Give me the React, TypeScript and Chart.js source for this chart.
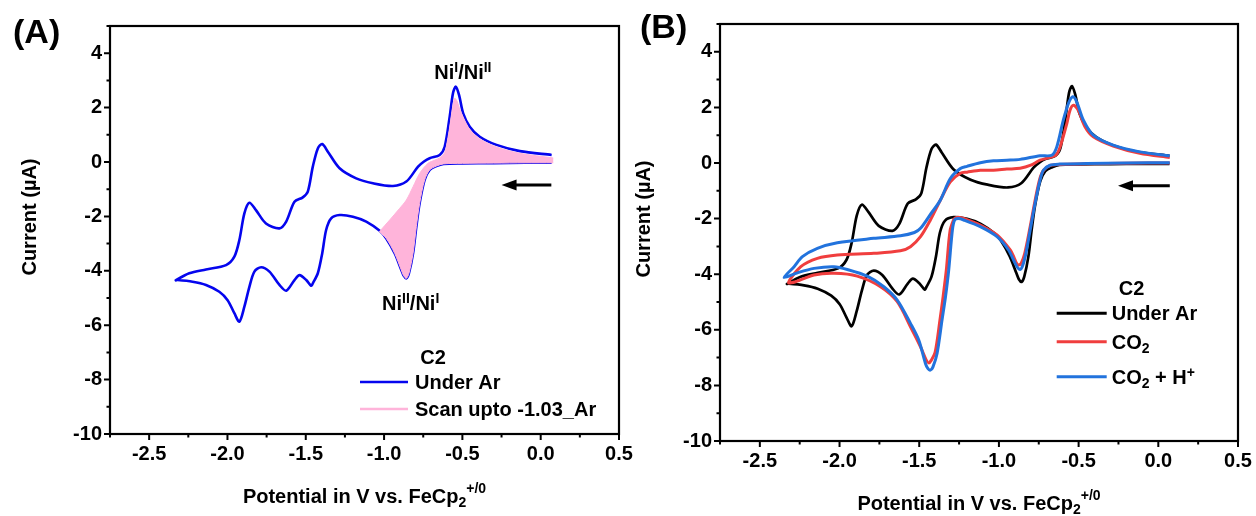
import React, { useEffect, useRef } from 'react';
import { Chart, registerables } from 'chart.js';

Chart.register(...registerables);

const FONT = '"Liberation Sans", Arial, Helvetica, sans-serif';

// Axis ranges (V and µA)
const X_MIN = -2.75;
const X_MAX = 0.5;
const Y_MIN = -10;
const Y_MAX = 5;

// ---- C2 under Ar: cathodic sweep from +0.07 V ...
const arFwdX = [0.07, -0.1, -0.3, -0.5, -0.62, -0.666, -0.709, -0.741, -0.773, -0.794, -0.815, -0.841, -0.858, -0.875, -0.89, -0.932, -0.986, -1.028, -1.114, -1.199, -1.284, -1.338, -1.37, -1.395, -1.423, -1.455, -1.466, -1.497, -1.54, -1.572, -1.625, -1.668, -1.732, -1.785, -1.828, -1.86, -1.892, -1.924, -1.956, -1.999, -2.052, -2.137, -2.223, -2.319];
const arFwdY = [-0.03, -0.03, -0.04, -0.05, -0.07, -0.15, -0.29, -0.66, -1.52, -2.38, -3.36, -4.09, -4.28, -4.18, -3.97, -3.36, -2.81, -2.53, -2.19, -2.01, -1.95, -2.07, -2.5, -3.36, -4.09, -4.46, -4.55, -4.34, -4.16, -4.34, -4.73, -4.52, -4.03, -3.87, -4.03, -4.59, -5.32, -5.87, -5.56, -5.08, -4.77, -4.52, -4.4, -4.34];
// ... and the anodic return sweep
const arRevX = [-2.33, -2.244, -2.137, -2.009, -1.956, -1.924, -1.892, -1.86, -1.818, -1.754, -1.668, -1.625, -1.572, -1.519, -1.487, -1.455, -1.423, -1.395, -1.359, -1.284, -1.178, -1.071, -0.943, -0.858, -0.783, -0.745, -0.709, -0.645, -0.613, -0.581, -0.56, -0.542, -0.521, -0.495, -0.453, -0.389, -0.282, -0.133, 0.07];
const arRevY = [-4.35, -4.09, -3.95, -3.79, -3.48, -2.87, -1.89, -1.5, -1.77, -2.26, -2.44, -2.19, -1.46, -1.3, -1.09, -0.17, 0.5, 0.66, 0.38, -0.23, -0.6, -0.78, -0.88, -0.72, -0.17, 0.02, 0.14, 0.26, 0.56, 1.67, 2.53, 2.77, 2.46, 1.79, 1.3, 0.93, 0.63, 0.4, 0.26];

// ---- C2 under Ar, sweep reversed at -1.03 V
const partFwdX = [0.08, -0.1, -0.3, -0.5, -0.62, -0.666, -0.709, -0.741, -0.773, -0.794, -0.815, -0.841, -0.858, -0.875, -0.89, -0.932, -0.986, -1.03];
const partFwdY = [-0.03, -0.03, -0.04, -0.05, -0.07, -0.15, -0.29, -0.66, -1.52, -2.38, -3.36, -4.09, -4.28, -4.18, -3.97, -3.36, -2.81, -2.56];
const partRevX = [-1.03, -0.964, -0.9, -0.858, -0.815, -0.773, -0.72, -0.676, -0.645, -0.613, -0.592, -0.578, -0.563, -0.549, -0.535, -0.52, -0.495, -0.453, -0.389, -0.282, -0.133, 0.08];
const partRevY = [-2.56, -2.13, -1.7, -1.4, -0.91, -0.42, -0.05, 0.07, 0.15, 0.35, 0.9, 1.4, 2.0, 2.34, 2.25, 2.0, 1.65, 1.2, 0.85, 0.55, 0.32, 0.15];

// ---- C2 under CO2
const co2FwdX = [0.072, -0.2, -0.45, -0.62, -0.679, -0.721, -0.745, -0.775, -0.806, -0.838, -0.86, -0.877, -0.89, -0.905, -0.929, -1.012, -1.117, -1.221, -1.255, -1.272, -1.285, -1.307, -1.33, -1.35, -1.37, -1.4, -1.425, -1.44, -1.455, -1.492, -1.555, -1.638, -1.743, -1.889, -2.035, -2.16, -2.275];
const co2FwdY = [0.0, -0.01, -0.03, -0.05, -0.09, -0.27, -0.6, -1.4, -2.35, -3.25, -3.6, -3.67, -3.6, -3.4, -3.13, -2.59, -2.23, -1.99, -1.95, -1.97, -2.05, -2.45, -3.85, -4.8, -5.65, -6.8, -7.1, -7.19, -7.1, -6.61, -5.89, -4.99, -4.45, -4.07, -3.97, -4.03, -4.27];
const co2RevX = [-2.32, -2.243, -2.139, -2.014, -1.785, -1.618, -1.555, -1.492, -1.43, -1.367, -1.305, -1.242, -1.2, -1.117, -1.034, -0.95, -0.867, -0.8, -0.742, -0.68, -0.64, -0.616, -0.574, -0.554, -0.533, -0.502, -0.46, -0.408, -0.283, -0.116, 0.072];
const co2RevY = [-4.3, -3.73, -3.43, -3.31, -3.25, -3.16, -3.01, -2.65, -2.05, -1.33, -0.68, -0.37, -0.33, -0.26, -0.26, -0.22, -0.19, -0.08, 0.1, 0.2, 0.3, 0.58, 1.42, 1.9, 2.08, 1.9, 1.3, 0.94, 0.61, 0.35, 0.2];

// ---- C2 under CO2 with added proton source
const co2hFwdX = [0.072, -0.2, -0.45, -0.62, -0.679, -0.721, -0.742, -0.773, -0.804, -0.835, -0.855, -0.867, -0.88, -0.898, -0.94, -1.012, -1.117, -1.221, -1.255, -1.278, -1.292, -1.315, -1.335, -1.357, -1.388, -1.415, -1.43, -1.445, -1.461, -1.503, -1.555, -1.638, -1.722, -1.826, -1.951, -2.035, -2.16, -2.264];
const co2hFwdY = [0.01, 0.0, -0.02, -0.04, -0.08, -0.26, -0.62, -1.45, -2.41, -3.37, -3.75, -3.83, -3.78, -3.61, -3.13, -2.65, -2.29, -2.05, -2.0, -2.05, -2.41, -3.85, -4.8, -5.65, -6.85, -7.35, -7.45, -7.4, -7.21, -6.37, -5.77, -4.93, -4.45, -4.07, -3.83, -3.73, -3.79, -3.95];
const co2hRevX = [-2.348, -2.285, -2.233, -2.139, -2.014, -1.785, -1.618, -1.53, -1.492, -1.43, -1.367, -1.305, -1.242, -1.2, -1.117, -1.034, -0.95, -0.867, -0.742, -0.668, -0.637, -0.596, -0.564, -0.537, -0.512, -0.47, -0.408, -0.283, -0.116, 0.072];
const co2hRevY = [-4.12, -3.73, -3.37, -3.07, -2.87, -2.71, -2.62, -2.5, -2.35, -1.85, -1.33, -0.56, -0.2, -0.12, 0.01, 0.08, 0.1, 0.13, 0.26, 0.28, 0.58, 1.54, 2.14, 2.38, 2.2, 1.54, 1.0, 0.64, 0.4, 0.26];

const COLORS = {
  arA: '#0505ee',
  pink: '#ffb4da',
  black: '#000000',
  red: '#f03e3e',
  blue: '#2273dd',
};

type Pt = { x: number; y: number };
const pts = (xs: number[], ys: number[]): Pt[] => xs.map((x, i) => ({ x, y: ys[i] }));
const loop = (fx: number[], fy: number[], rx: number[], ry: number[]): Pt[] => [...pts(fx, fy), ...pts(rx, ry)];

// ---- rich text (super/subscripts) on the canvas
type Run = { t: string; s?: 'sup' | 'sub'; rise?: number };

function runFont(size: number, r: Run) {
  const sz = r.s ? Math.round(size * 0.68) : size;
  return `bold ${sz}px ${FONT}`;
}

function drawRich(ctx: CanvasRenderingContext2D, runs: Run[], x: number, y: number, size: number, align: 'left' | 'center') {
  ctx.textBaseline = 'alphabetic';
  ctx.textAlign = 'left';
  let w = 0;
  for (const r of runs) {
    ctx.font = runFont(size, r);
    w += ctx.measureText(r.t).width;
  }
  let cx = align === 'center' ? x - w / 2 : x;
  for (const r of runs) {
    ctx.font = runFont(size, r);
    const dy = r.s === 'sup' ? -(r.rise ?? 0.34) * size : r.s === 'sub' ? 0.22 * size : 0;
    ctx.fillText(r.t, cx, y + dy);
    cx += ctx.measureText(r.t).width;
  }
}

type LegendRow = { color: string; width: number; runs: Run[]; dy: number };
type Note = { runs: Run[]; x: number; y: number; align: 'left' | 'center' };
type Decor = {
  letter: string;
  letterX: number;
  letterY: number;
  yTitleX: number;
  yTitleY: number;
  legendTitle: { dx: number; dy: number };
  legendLine: [number, number];
  legendTextX: number;
  rows: LegendRow[];
  arrow: { x0: number; x1: number; y: number };
  notes: Note[];
};

const X_TITLE: Run[] = [{ t: 'Potential in V vs. FeCp' }, { t: '2', s: 'sub' }, { t: '+/0', s: 'sup', rise: 0.5 }];

function decorPlugin(d: Decor) {
  return {
    id: 'panelDecor',
    afterDraw(chart: Chart) {
      const ctx = chart.ctx;
      const a = chart.chartArea;
      const sx = chart.scales.x;
      const sy = chart.scales.y;
      ctx.save();
      ctx.fillStyle = '#000';
      ctx.strokeStyle = '#000';

      // frame
      ctx.lineWidth = 2.2;
      ctx.strokeRect(a.left, a.top, a.right - a.left, a.bottom - a.top);

      // major / minor tick marks
      ctx.lineWidth = 2;
      ctx.beginPath();
      for (let v = Y_MIN; v <= Y_MAX; v += 1) {
        const p = sy.getPixelForValue(v);
        const len = v % 2 === 0 ? 6 : 3.5;
        ctx.moveTo(a.left - len, p);
        ctx.lineTo(a.left, p);
      }
      for (let k = Math.round(X_MIN / 0.25); k <= Math.round(X_MAX / 0.25); k++) {
        const p = sx.getPixelForValue(k * 0.25);
        const len = k % 2 === 0 ? 6 : 3.5;
        ctx.moveTo(p, a.bottom);
        ctx.lineTo(p, a.bottom + len);
      }
      ctx.stroke();

      // panel letter
      ctx.font = `bold 34px ${FONT}`;
      ctx.textAlign = 'left';
      ctx.textBaseline = 'alphabetic';
      ctx.fillText(d.letter, d.letterX, d.letterY);

      // axis titles
      drawRich(ctx, X_TITLE, (a.left + a.right) / 2, a.bottom + 69, 20, 'center');
      ctx.save();
      ctx.translate(d.yTitleX, d.yTitleY);
      ctx.rotate(-Math.PI / 2);
      ctx.font = `bold 20px ${FONT}`;
      ctx.textAlign = 'center';
      ctx.textBaseline = 'middle';
      ctx.fillText('Current (\u00B5A)', 0, 0);
      ctx.restore();

      // sweep direction arrow
      const ax0 = sx.getPixelForValue(d.arrow.x0);
      const ax1 = sx.getPixelForValue(d.arrow.x1);
      const ay = sy.getPixelForValue(d.arrow.y);
      ctx.lineWidth = 3;
      ctx.beginPath();
      ctx.moveTo(ax0, ay);
      ctx.lineTo(ax1 + 10, ay);
      ctx.stroke();
      ctx.beginPath();
      ctx.moveTo(ax1, ay);
      ctx.lineTo(ax1 + 15, ay - 5.5);
      ctx.lineTo(ax1 + 15, ay + 5.5);
      ctx.closePath();
      ctx.fill();

      // peak labels
      for (const n of d.notes) {
        drawRich(ctx, n.runs, sx.getPixelForValue(n.x), sy.getPixelForValue(n.y), 20, n.align);
      }

      // legend
      ctx.font = `bold 20px ${FONT}`;
      ctx.textAlign = 'center';
      ctx.textBaseline = 'alphabetic';
      ctx.fillText('C2', a.left + d.legendTitle.dx, a.top + d.legendTitle.dy + 7);
      for (const r of d.rows) {
        const ry = a.top + r.dy;
        ctx.strokeStyle = r.color;
        ctx.lineWidth = r.width;
        ctx.beginPath();
        ctx.moveTo(a.left + d.legendLine[0], ry);
        ctx.lineTo(a.left + d.legendLine[1], ry);
        ctx.stroke();
        ctx.fillStyle = '#000';
        drawRich(ctx, r.runs, a.left + d.legendTextX, ry + 7, 20, 'left');
      }
      ctx.restore();
    },
  };
}

function lineSet(data: Pt[], color: string, width: number, order: number) {
  return {
    data,
    showLine: true,
    borderColor: color,
    backgroundColor: color,
    borderWidth: width,
    pointRadius: 0,
    tension: 0.3,
    fill: false,
    order,
  };
}

function makeChart(
  canvas: HTMLCanvasElement,
  datasets: any[],
  padding: { left: number; right: number; top: number; bottom: number },
  decor: Decor
) {
  const tickFont = { family: FONT, size: 20, weight: 'bold' as const };
  return new Chart(canvas, {
    type: 'scatter',
    data: { datasets },
    options: {
      responsive: false,
      animation: false,
      devicePixelRatio: 1,
      layout: { padding },
      plugins: { legend: { display: false }, tooltip: { enabled: false } },
      scales: {
        x: {
          type: 'linear',
          min: X_MIN,
          max: X_MAX,
          grid: { display: false },
          border: { display: false },
          ticks: {
            stepSize: 0.25,
            autoSkip: false,
            maxRotation: 0,
            minRotation: 0,
            padding: 0,
            color: '#000',
            font: tickFont,
            callback: (v: any) => {
              const k = Math.round(Number(v) / 0.25);
              return k % 2 === 0 ? (k * 0.25).toFixed(1) : '';
            },
          },
          afterFit: (s: any) => {
            s.height = 50;
          },
        },
        y: {
          type: 'linear',
          min: Y_MIN,
          max: Y_MAX,
          grid: { display: false },
          border: { display: false },
          ticks: {
            stepSize: 1,
            autoSkip: false,
            padding: 0,
            color: '#000',
            font: tickFont,
            callback: (v: any) => {
              const n = Math.round(Number(v));
              return n % 2 === 0 ? String(n) : '';
            },
          },
          afterFit: (s: any) => {
            s.width = 60;
          },
        },
      },
    },
    plugins: [decorPlugin(decor)],
  } as any);
}

const ni12: Run[] = [{ t: 'Ni' }, { t: 'I', s: 'sup' }, { t: '/Ni' }, { t: 'II', s: 'sup' }];
const ni21: Run[] = [{ t: 'Ni' }, { t: 'II', s: 'sup' }, { t: '/Ni' }, { t: 'I', s: 'sup' }];

function co2hLoop(): Pt[] {
  return loop(co2hFwdX, co2hFwdY, co2hRevX, co2hRevY);
}

export default function App() {
  const refA = useRef<HTMLCanvasElement>(null);
  const refB = useRef<HTMLCanvasElement>(null);

  useEffect(() => {
    const arLoop = loop(arFwdX, arFwdY, arRevX, arRevY);

    const partial = {
      ...lineSet(loop(partFwdX, partFwdY, partRevX, partRevY), COLORS.pink, 1, 0),
      fill: 'shape',
      backgroundColor: COLORS.pink,
    };

    const chartA = makeChart(
      refA.current!,
      [lineSet(arLoop, COLORS.arA, 2.6, 1), partial],
      { left: 50, right: 21, top: 26, bottom: 32 },
      {
        letter: '(A)',
        letterX: 13,
        letterY: 43,
        yTitleX: 30,
        yTitleY: 217,
        legendTitle: { dx: 323, dy: 331 },
        legendLine: [250, 298],
        legendTextX: 305,
        rows: [
          { color: COLORS.arA, width: 2.5, runs: [{ t: 'Under Ar' }], dy: 356 },
          { color: COLORS.pink, width: 2.5, runs: [{ t: 'Scan upto -1.03_Ar' }], dy: 383 },
        ],
        arrow: { x0: 0.068, x1: -0.25, y: -0.85 },
        notes: [
          { runs: ni12, x: -0.497, y: 3.05, align: 'center' },
          { runs: ni21, x: -0.83, y: -5.44, align: 'center' },
        ],
      }
    );

    const chartB = makeChart(
      refB.current!,
      [
        lineSet(co2hLoop(), COLORS.blue, 3, 0),
        lineSet(loop(co2FwdX, co2FwdY, co2RevX, co2RevY), COLORS.red, 3, 1),
        lineSet(arLoop, COLORS.black, 2.7, 2),
      ],
      { left: 44, right: 18, top: 24, bottom: 25 },
      {
        letter: '(B)',
        letterX: 24,
        letterY: 38,
        yTitleX: 28,
        yTitleY: 219,
        legendTitle: { dx: 411.5, dy: 264 },
        legendLine: [336.7, 386.7],
        legendTextX: 391.7,
        rows: [
          { color: COLORS.black, width: 3, runs: [{ t: 'Under Ar' }], dy: 289.3 },
          { color: COLORS.red, width: 3, runs: [{ t: 'CO' }, { t: '2', s: 'sub' }], dy: 317.7 },
          {
            color: COLORS.blue,
            width: 3,
            runs: [{ t: 'CO' }, { t: '2', s: 'sub' }, { t: ' + H' }, { t: '+', s: 'sup' }],
            dy: 352.7,
          },
        ],
        arrow: { x0: 0.072, x1: -0.253, y: -0.82 },
        notes: [],
      }
    );

    return () => {
      chartA.destroy();
      chartB.destroy();
    };
  }, []);

  return (
    <div style={{ position: 'fixed', left: 0, top: 0, width: 1256, height: 516, background: '#ffffff' }}>
      <canvas
        ref={refA}
        width={640}
        height={516}
        style={{ position: 'absolute', left: 0, top: 0, width: 640, height: 516 }}
      />
      <canvas
        ref={refB}
        width={640}
        height={516}
        style={{ position: 'absolute', left: 616, top: 0, width: 640, height: 516 }}
      />
    </div>
  );
}
